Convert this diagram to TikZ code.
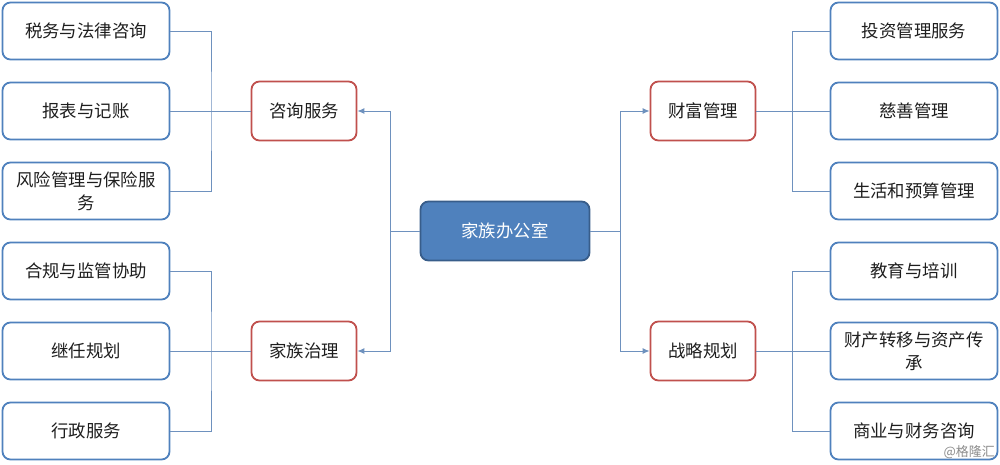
\documentclass[tikz,border=0pt]{standalone}
\usepackage{fontspec}
\setmainfont{Noto Sans CJK SC}
\usetikzlibrary{arrows.meta}
\definecolor{leafblue}{RGB}{79,129,189}
\definecolor{midred}{RGB}{192,80,77}
\definecolor{connc}{RGB}{110,145,190}
\definecolor{cfill}{RGB}{79,129,189}
\definecolor{cdraw}{RGB}{56,93,138}
\definecolor{txt}{RGB}{30,30,30}
\tikzset{
  leaf/.style={draw=leafblue, line width=1.8pt, rounded corners=8pt, fill=white,
    minimum width=167pt, minimum height=57pt, inner sep=0pt, align=center,
    text=txt, font=\fontsize{17.4}{23}\selectfont},
  mid/.style={draw=midred, line width=1.8pt, rounded corners=8pt, fill=white,
    minimum width=105pt, minimum height=59pt, inner sep=0pt, align=center,
    text=txt, font=\fontsize{17.4}{23}\selectfont},
  centre/.style={draw=cdraw, line width=1.8pt, rounded corners=8pt, fill=cfill,
    minimum width=169pt, minimum height=59pt, inner sep=0pt,
    text=white, font=\fontsize{17.4}{23}\selectfont},
  conn/.style={draw=connc, line width=1pt},
  arr/.style={conn, -{Latex[length=7pt,width=6pt]}},
}
\begin{document}
\begin{tikzpicture}[x=1pt,y=-1pt]
\useasboundingbox (0,0) rectangle (1000,464);
% centre
\node[centre] (c) at (505,231) {家族办公室};
% mid
\node[mid] (m1) at (304,111) {咨询服务};
\node[mid] (m2) at (304,351) {家族治理};
\node[mid] (m3) at (703,111) {财富管理};
\node[mid] (m4) at (703,351) {战略规划};
% left leaves
\node[leaf] (l1) at (86,31) {税务与法律咨询};
\node[leaf] (l2) at (86,111) {报表与记账};
\node[leaf] (l3) at (86,191) {风险管理与保险服\\务};
\node[leaf] (l4) at (86,271) {合规与监管协助};
\node[leaf] (l5) at (86,351) {继任规划};
\node[leaf] (l6) at (86,431) {行政服务};
% right leaves
\node[leaf] (r1) at (914,31) {投资管理服务};
\node[leaf] (r2) at (914,111) {慈善管理};
\node[leaf] (r3) at (914,191) {生活和预算管理};
\node[leaf] (r4) at (914,271) {教育与培训};
\node[leaf] (r5) at (914,351) {财产转移与资产传\\承};
\node[leaf] (r6) at (914,431) {商业与财务咨询};
% junctions
\coordinate (jl) at (390,231);
\coordinate (jr) at (620,231);
\coordinate (b1) at (211,111);
\coordinate (b2) at (211,351);
\coordinate (b3) at (792,111);
\coordinate (b4) at (792,351);
% centre to mids
\draw[conn] (c.west) -- (jl);
\draw[arr] (jl) |- (m1.east);
\draw[arr] (jl) |- (m2.east);
\draw[conn] (c.east) -- (jr);
\draw[arr] (jr) |- (m3.west);
\draw[arr] (jr) |- (m4.west);
% left brackets
\draw[conn] (l1.east) -| (b1) |- (l3.east);
\draw[conn] (l2.east) -- (m1.west);
\draw[conn] (l4.east) -| (b2) |- (l6.east);
\draw[conn] (l5.east) -- (m2.west);
% right brackets
\draw[conn] (r1.west) -| (b3) |- (r3.west);
\draw[conn] (m3.east) -- (r2.west);
\draw[conn] (r4.west) -| (b4) |- (r6.west);
\draw[conn] (m4.east) -- (r5.west);
% watermark
\node[anchor=east, text=black!45, font=\fontsize{13}{15}\selectfont, inner sep=0pt] (wm) at (995,452) {@格隆汇};
\end{tikzpicture}
\end{document}
